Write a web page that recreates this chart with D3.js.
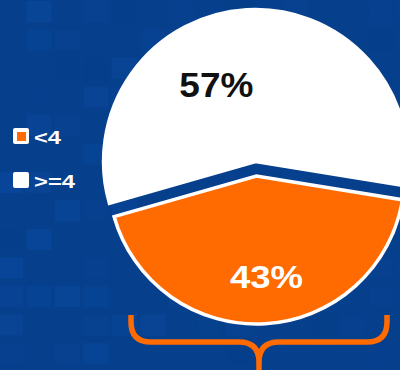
<!DOCTYPE html>
<html><head><meta charset="utf-8">
<script src="https://cdn.jsdelivr.net/npm/d3@7"></script>
<style>html,body{margin:0;padding:0;background:#063f8b;overflow:hidden}</style>
</head><body><svg id="c" width="400" height="370"></svg>
<script>
// ---- data ----
const categories = ["<4", ">=4"];
const values = [43, 57];
const percentLabels = ["43%", "57%"];
const colors = ["#ff6b00", "#ffffff"];

const W = 400, H = 370;
const svg = d3.select("#c");
const deg = Math.PI / 180;

// background tiles (decoration)
const bg = svg.append("g");
bg.append("rect").attr("width", W).attr("height", H).attr("fill", "#063f8b");
const pitch = 28.5;
function hash(i, j) { const s = Math.sin(i * 12.9898 + j * 78.233) * 43758.5453; return s - Math.floor(s); }
for (let i = 0; i < 15; i++) {
  for (let j = 0; j < 14; j++) {
    const h = hash(i, j);
    const x = i * pitch - 2, y = j * pitch + 1;
    const fade = Math.max(0.25, 1 - x / 420);
    if (h < 0.3) continue;
    bg.append("rect").attr("x", x).attr("y", y).attr("width", 25).attr("height", 21)
      .attr("fill", "#0d4fae").attr("opacity", (h - 0.3) * 0.6 * fade);
  }
}

// ---- pie ----
const base = [256, 169];
const startDeg = 254.05;
const pie = d3.pie().sort(null).value(d => d.v)
  .startAngle(startDeg * deg).endAngle((startDeg + 360) * deg);
// order: >=4 (white) first then <4 (orange)
const pdata = pie([{ c: 1, v: values[1] }, { c: 0, v: values[0] }]);
const radius = { 0: 148, 1: 152 };
const explode = { 0: 7, 1: 7.5 };
const labelAngleOff = { 0: -2.3, 1: -23.6 };
const labelDist = { 0: 101.5, 1: 86.5 };
const fontSize = { 0: 31, 1: 35 };
const textLen = { 0: 73, 1: 74 };
const textCol = { 0: "#ffffff", 1: "#111111" };

pdata.forEach(d => {
  const k = d.data.c;
  const mid = (d.startAngle + d.endAngle) / 2;
  const cx = base[0] + Math.sin(mid) * explode[k];
  const cy = base[1] - Math.cos(mid) * explode[k];
  const arc = d3.arc().innerRadius(0).outerRadius(radius[k]);
  svg.append("path").attr("d", arc(d)).attr("transform", `translate(${cx},${cy})`)
    .attr("fill", colors[k]).attr("stroke", "#ffffff").attr("stroke-width", 3.5)
    .attr("stroke-linejoin", "miter");
  const la = mid + labelAngleOff[k] * deg;
  const lx = cx + Math.sin(la) * labelDist[k];
  const ly = cy - Math.cos(la) * labelDist[k];
  svg.append("text").attr("x", lx).attr("y", ly).attr("dy", "0.36em")
    .attr("text-anchor", "middle").attr("font-family", "Liberation Sans, Arial, sans-serif")
    .attr("font-weight", "bold").attr("font-size", fontSize[k]).attr("fill", textCol[k])
    .attr("textLength", textLen[k]).attr("lengthAdjust", "spacingAndGlyphs")
    .text(percentLabels[k]);
});

// ---- legend ----
const leg = svg.append("g").attr("transform", "translate(13,128)");
categories.forEach((c, i) => {
  const g = leg.append("g").attr("transform", `translate(0,${i * 44})`);
  g.append("rect").attr("width", 16).attr("height", 16).attr("rx", 2).attr("fill", "#ffffff");
  if (i === 0) g.append("rect").attr("x", 4).attr("y", 4).attr("width", 9).attr("height", 9).attr("fill", colors[0]);
  g.append("text").attr("x", 21).attr("y", 15.5).attr("font-family", "Liberation Sans, Arial, sans-serif")
    .attr("font-weight", "bold").attr("font-size", 19).attr("fill", "#ffffff")
    .attr("textLength", i === 0 ? 27 : 41).attr("lengthAdjust", "spacingAndGlyphs").text(c);
});

// ---- brace under orange slice ----
const bx0 = 131, bx1 = 387, bm = (bx0 + bx1) / 2, by0 = 315, by = 342, r = 20;
const brace = d3.path();
brace.moveTo(bx0, by0);
brace.lineTo(bx0, by - r);
brace.quadraticCurveTo(bx0, by, bx0 + r, by);
brace.lineTo(bm - r, by);
brace.quadraticCurveTo(bm, by, bm, by + r);
brace.lineTo(bm, H + 5);
brace.moveTo(bx1, by0);
brace.lineTo(bx1, by - r);
brace.quadraticCurveTo(bx1, by, bx1 - r, by);
brace.lineTo(bm + r, by);
brace.quadraticCurveTo(bm, by, bm, by + r);
svg.append("path").attr("d", brace.toString()).attr("fill", "none")
  .attr("stroke", "#ff6b00").attr("stroke-width", 5.5).attr("stroke-linecap", "butt");
</script></body></html>
